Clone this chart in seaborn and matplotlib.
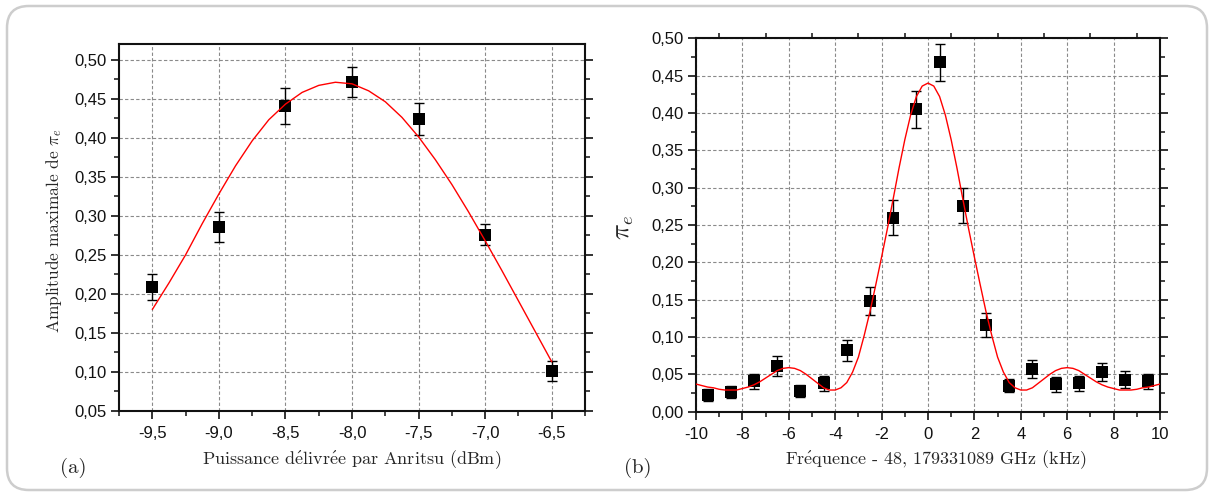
import numpy as np
import pandas as pd
import matplotlib
matplotlib.use("Agg")
import matplotlib.pyplot as plt
from matplotlib.ticker import MultipleLocator, FuncFormatter
from matplotlib.patches import FancyBboxPatch
import seaborn as sns

# (a) amplitude vs power
power = [-9.5, -9.0, -8.5, -8.0, -7.5, -7.0, -6.5]
amp = [0.209, 0.286, 0.441, 0.471, 0.424, 0.276, 0.101]
amp_err = [0.017, 0.019, 0.023, 0.019, 0.020, 0.014, 0.013]

# (a) fit curve
fit_a_x = np.linspace(-9.5, -6.5, 25)
fit_a_y = [0.180, 0.214, 0.250, 0.290, 0.328, 0.364, 0.396, 0.423, 0.443,
           0.458, 0.467, 0.471, 0.469, 0.460, 0.446, 0.426, 0.401, 0.372,
           0.340, 0.305, 0.268, 0.230, 0.191, 0.152, 0.113]

# (b) pi_e vs detuning
freq = [-9.5, -8.5, -7.5, -6.5, -5.5, -4.5, -3.5, -2.5, -1.5, -0.5,
        0.5, 1.5, 2.5, 3.5, 4.5, 5.5, 6.5, 7.5, 8.5, 9.5]
pi_e = [0.022, 0.026, 0.041, 0.061, 0.028, 0.038, 0.082, 0.148, 0.260, 0.405,
        0.468, 0.276, 0.116, 0.035, 0.057, 0.037, 0.038, 0.053, 0.043, 0.041]
pi_err = [0.008, 0.008, 0.010, 0.013, 0.008, 0.010, 0.014, 0.019, 0.023, 0.025,
          0.025, 0.023, 0.016, 0.009, 0.012, 0.010, 0.010, 0.012, 0.011, 0.010]

# (b) fit curve
fit_b_x = np.linspace(-10, 10, 81)
fit_b_y = [0.037, 0.035, 0.033, 0.032, 0.030, 0.029, 0.029, 0.029, 0.031, 0.033,
           0.036, 0.040, 0.045, 0.050, 0.055, 0.058, 0.059, 0.058, 0.055, 0.050,
           0.044, 0.038, 0.032, 0.029, 0.029, 0.032, 0.039, 0.053, 0.073, 0.102,
           0.134, 0.170, 0.207, 0.245, 0.285, 0.326, 0.364, 0.397, 0.422, 0.436,
           0.440,
           0.436, 0.422, 0.397, 0.364, 0.326, 0.285, 0.245, 0.207, 0.170, 0.134,
           0.102, 0.073, 0.053, 0.039, 0.032, 0.029, 0.029, 0.032, 0.038, 0.044,
           0.050, 0.055, 0.058, 0.059, 0.058, 0.055, 0.050, 0.045, 0.040, 0.036,
           0.033, 0.031, 0.029, 0.029, 0.029, 0.030, 0.032, 0.033, 0.035, 0.037]

sns.set_style("ticks")
plt.rcParams["font.family"] = ["Liberation Sans", "DejaVu Sans"]
plt.rcParams["mathtext.fontset"] = "cm"

serif = ["cmr10", "DejaVu Serif"]
e_acute = r"$\mathrm{\acute{e}}$"
comma = FuncFormatter(lambda v, p: f"{v:.2f}".replace(".", ","))
comma1 = FuncFormatter(lambda v, p: f"{v:.1f}".replace(".", ","))
intfmt = FuncFormatter(lambda v, p: f"{v:.0f}")

fig = plt.figure(figsize=(12.11, 4.96), dpi=100)
ax1 = fig.add_axes([0.0983, 0.1714, 0.3848, 0.7399])
ax2 = fig.add_axes([0.5747, 0.1700, 0.3832, 0.7528])


def style_axis(ax):
    ax.grid(True, which="major", color="#8a8a8a", linestyle=(0, (3, 2)), linewidth=0.8)
    ax.set_axisbelow(True)
    for s in ax.spines.values():
        s.set_linewidth(1.5)
        s.set_color("#111111")
    ax.tick_params(which="major", direction="out", length=6, width=1.2,
                   labelsize=12, pad=3, colors="#111111")
    ax.tick_params(which="minor", direction="out", length=3.5, width=1.1, colors="#111111")
    ax.tick_params(axis="y", which="both", left=True, right=True)
    ax.tick_params(axis="x", which="major", pad=5)


def draw_points(ax, x, y, err):
    ax.errorbar(x, y, yerr=err, fmt="none", ecolor="black", elinewidth=1,
                capsize=3.5, capthick=1, zorder=3)
    sns.scatterplot(x=x, y=y, marker="s", s=65, color="black", edgecolor="black",
                    linewidth=0, ax=ax, zorder=4)


# ---- panel (a)
draw_points(ax1, power, amp, amp_err)
sns.lineplot(x=fit_a_x, y=fit_a_y, color="red", linewidth=1, ax=ax1, zorder=5)
ax1.set_xlim(-9.75, -6.25)
ax1.set_ylim(0.05, 0.52)
ax1.xaxis.set_major_locator(MultipleLocator(0.5))
ax1.xaxis.set_minor_locator(MultipleLocator(0.25))
ax1.yaxis.set_major_locator(MultipleLocator(0.05))
ax1.yaxis.set_minor_locator(MultipleLocator(0.025))
ax1.xaxis.set_major_formatter(comma1)
ax1.yaxis.set_major_formatter(comma)
style_axis(ax1)
ax1.set_xlabel("Puissance d" + e_acute + "livr" + e_acute + "e par Anritsu (dBm)",
               family=serif, fontsize=13, va="center")
ax1.xaxis.set_label_coords(0.5, -0.1335)
ax1.set_ylabel(r"Amplitude maximale de $\pi_e$", family=serif, fontsize=12.5, va="center")
ax1.yaxis.set_label_coords(-0.1395, 0.493)

# ---- panel (b)
draw_points(ax2, freq, pi_e, pi_err)
sns.lineplot(x=fit_b_x, y=fit_b_y, color="red", linewidth=1, ax=ax2, zorder=5)
ax2.set_xlim(-10, 10)
ax2.set_ylim(0.0, 0.50)
ax2.xaxis.set_major_locator(MultipleLocator(2))
ax2.xaxis.set_minor_locator(MultipleLocator(1))
ax2.yaxis.set_major_locator(MultipleLocator(0.05))
ax2.yaxis.set_minor_locator(MultipleLocator(0.025))
ax2.xaxis.set_major_formatter(intfmt)
ax2.yaxis.set_major_formatter(comma)
style_axis(ax2)
ax2.tick_params(axis="x", which="minor", top=True)
ax2.set_xlabel("Fr" + e_acute + "quence - 48, 179331089 GHz (kHz)",
               family=serif, fontsize=13, va="center")
ax2.xaxis.set_label_coords(0.517, -0.129)
ax2.set_ylabel(r"$\pi_e$", fontsize=19, va="center")
ax2.yaxis.set_label_coords(-0.155, 0.492)

fig.text(73 / 1211, 1 - 468 / 496, "(a)", family=serif, fontsize=15, ha="center", va="center")
fig.text(638 / 1211, 1 - 468 / 496, "(b)", family=serif, fontsize=15, ha="center", va="center")

frame = FancyBboxPatch((7 / 1211, 6 / 496), 1200 / 1211, 484 / 496,
                       boxstyle="round,pad=0,rounding_size=0.018",
                       transform=fig.transFigure, fill=False,
                       edgecolor="#cdcdcd", linewidth=1.8, mutation_aspect=1211 / 496)
fig.patches.append(frame)

fig.savefig("out.png", dpi=100)
